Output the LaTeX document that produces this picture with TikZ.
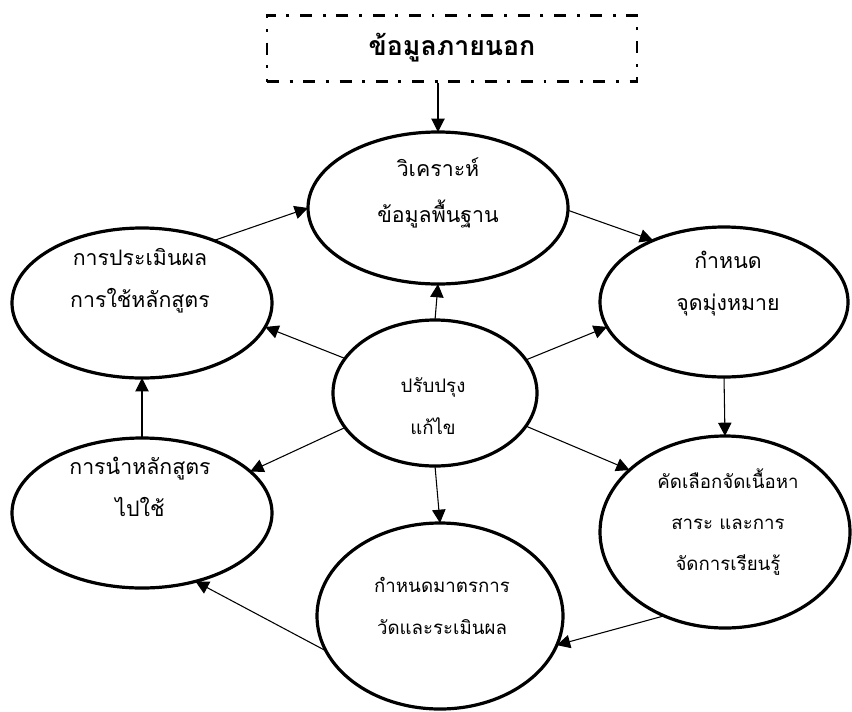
\documentclass[tikz,border=0pt]{standalone}
\usepackage{fontspec}
\newfontfamily\thai[Script=Thai]{Loma}
\usetikzlibrary{shapes.geometric,arrows.meta}
\tikzset{
  ell/.style={ellipse, draw, line width=2.4pt, inner sep=0pt, outer sep=0pt},
  conn/.style={line width=0.8pt, -{Triangle[length=10pt,width=10pt]}},
  bigtxt/.style={font=\thai\fontsize{16}{35}\selectfont, align=center, inner sep=0pt},
  midtxt/.style={font=\thai\fontsize{16}{31.5}\selectfont, align=center, inner sep=0pt},
  smalltxt/.style={font=\thai\fontsize{14}{31}\selectfont, align=center, inner sep=0pt},
  dashbox/.style={draw, line width=2.2pt, dash pattern=on 9pt off 8pt on 2.2pt off 8pt, inner sep=0pt}
}
\begin{document}
\begin{tikzpicture}[x=0.75pt,y=-0.75pt]
\useasboundingbox (0,0) rectangle (852,711);
% external box
\node[dashbox, minimum width=277.5pt, minimum height=50pt] (ext) at (452,48.5) {};
\node[font=\thai\bfseries\fontsize{20}{24}\selectfont, inner sep=0pt] (exttxt) at (452,48) {ข้อมูลภายนอก};
% ellipses
\node[ell, minimum width=195pt, minimum height=114pt] (top) at (438,208) {};
\node[ell, minimum width=195pt, minimum height=112.5pt] (lt) at (142,303) {};
\node[ell, minimum width=186pt, minimum height=112.5pt] (rt) at (724,302) {};
\node[ell, minimum width=153pt, minimum height=109.5pt] (c) at (435,393) {};
\node[ell, minimum width=195pt, minimum height=112.5pt] (lb) at (142,513) {};
\node[ell, minimum width=187.5pt, minimum height=144pt] (rb) at (725,532) {};
\node[ell, minimum width=184.5pt, minimum height=139.5pt] (b) at (440,616) {};
% texts
\node[bigtxt] (ttop) at (438,193) {วิเคราะห์\\ข้อมูลพื้นฐาน};
\node[midtxt] (tlt) at (140,281) {การประเมินผล\\การใช้หลักสูตร};
\node[midtxt] (trt) at (728,284) {กำหนด\\จุดมุ่งหมาย};
\node[smalltxt] (tc) at (433,406) {ปรับปรุง\\แก้ไข};
\node[midtxt] (tlb) at (140,487) {การนำหลักสูตร\\ไปใช้};
\node[smalltxt] (trb) at (728,522) {คัดเลือกจัดเนื้อหา\\สาระ และการ\\จัดการเรียนรู้};
\node[smalltxt] (tb) at (442,606) {กำหนดมาตรการ\\วัดและระเมินผล};
% cycle connectors
\draw[conn] (top.north |- ext.south) -- (top.north);
\draw[conn] (top.-1) -- (rt.139);
\draw[conn] (rt.south) -- (rb.north);
\draw[conn] (rb.-126.5) -- (b.-14);
\draw[conn] (b.-163) -- (lb.-52);
\draw[conn] (lb.north) -- (lt.south);
\draw[conn] (lt.41) -- (top.180);
% centre connectors
\draw[conn] (c.north) -- (top.south);
\draw[conn] (c.159.4) -- (lt.-11);
\draw[conn] (c.20.6) -- (rt.-168.2);
\draw[conn] (c.-159.2) -- (lb.21.6);
\draw[conn] (c.-20.6) -- (rb.147.7);
\draw[conn] (c.south) -- (b.north);
\end{tikzpicture}
\end{document}
